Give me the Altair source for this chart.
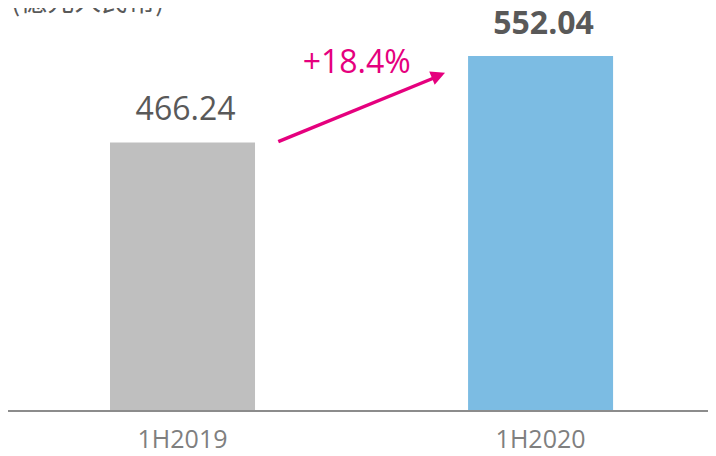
import altair as alt
import pandas as pd

# ---- data ----
categories = ["1H2019", "1H2020"]
values = [466.24, 552.04]
value_labels = ["466.24", "552.04"]
bar_colors = ["#BFBFBF", "#7CBCE3"]
growth_label = "+18.4%"
unit_title = "(億元人民幣)"
baseline_value = 200

df = pd.DataFrame({"cat": categories, "value": values, "label": value_labels})

FONT = "Open Sans"
W, H = 700, 440

x = alt.X("cat:N", scale=alt.Scale(domain=categories, paddingInner=0.595,
                                   paddingOuter=0.275, align=0.518), axis=None)
yscale = alt.Scale(domain=[163.3, 599.6], nice=False, zero=False)

base = alt.Chart(df)

bars = base.mark_bar().encode(
    x=x,
    y=alt.Y("value:Q", scale=yscale, axis=None),
    y2=alt.datum(baseline_value),
    color=alt.Color("cat:N", scale=alt.Scale(domain=categories, range=bar_colors), legend=None),
)

label_enc = dict(x=x, y=alt.Y("value:Q", scale=yscale, axis=None), text="label:N")
labels_a = base.mark_text(font=FONT, fontSize=32, color="#595959", baseline="alphabetic",
                          dy=-22, dx=3).encode(**label_enc).transform_filter(
    alt.datum.cat == categories[0])
labels_b = base.mark_text(font=FONT, fontSize=32, fontWeight="bold", color="#595959",
                          baseline="alphabetic", dy=-22, dx=3).encode(**label_enc).transform_filter(
    alt.datum.cat == categories[1])

cat_labels = base.mark_text(font=FONT, fontSize=25, color="#7F7F7F", baseline="alphabetic").encode(
    x=x,
    y=alt.value(439.5),
    text="cat:N",
)

axis_line = alt.Chart(pd.DataFrame({"v": [baseline_value]})).mark_rule(
    color="#8C8C8C", strokeWidth=2).encode(
    y=alt.Y("v:Q", scale=yscale, axis=None),
    x=alt.value(0), x2=alt.value(W),
)

ann = pd.DataFrame({"t": [growth_label]})
arrow_line = alt.Chart(ann).mark_rule(color="#E5007E", strokeWidth=3.5).encode(
    x=alt.value(270.3), y=alt.value(133.7), x2=alt.value(432), y2=alt.value(67.5),
)
arrow_head = alt.Chart(ann).mark_point(
    shape="M1,0L-1,-1L-1,1Z", filled=True, opacity=1, color="#E5007E",
    size=200, angle=337.5, strokeWidth=0).encode(
    x=alt.value(430.5), y=alt.value(67.4),
)
growth_text = alt.Chart(ann).mark_text(font=FONT, fontSize=32, color="#E5007E",
                                       baseline="alphabetic", align="center").encode(
    x=alt.value(348.7), y=alt.value(64.7), text="t:N",
)

title_text = alt.Chart(pd.DataFrame({"t": [unit_title]})).mark_text(
    font="Noto Sans CJK TC", fontSize=27, color="#595959", baseline="alphabetic", align="left").encode(
    x=alt.value(3), y=alt.value(3), text="t:N",
)

chart = alt.layer(bars, axis_line, labels_a, labels_b, cat_labels, arrow_line, arrow_head,
                  growth_text, title_text).properties(
    width=W, height=H,
    padding=0,
    autosize=alt.AutoSizeParams(type="none"),
    background="white",
).configure_view(stroke=None)

chart.save("out.html", embed_options={"renderer": "svg", "actions": False})
